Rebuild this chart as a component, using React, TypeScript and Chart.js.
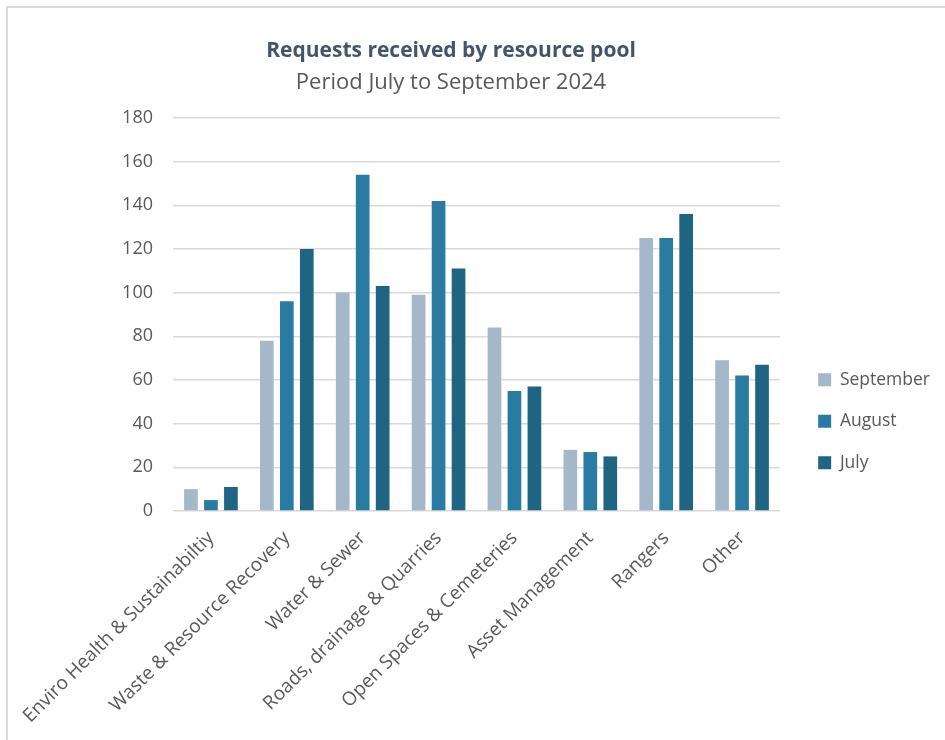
import React, { useEffect, useRef } from 'react';
import { Chart, registerables } from 'chart.js';

Chart.register(...registerables);

// ---- data ----
const categories = [
  'Enviro Health & Sustainabiltiy',
  'Waste & Resource Recovery',
  'Water & Sewer',
  'Roads, drainage & Quarries',
  'Open Spaces & Cemeteries',
  'Asset Management',
  'Rangers',
  'Other',
];
const seriesNames = ['September', 'August', 'July'];
const september = [10, 78, 100, 99, 84, 28, 125, 69];
const august = [5, 96, 154, 142, 55, 27, 125, 62];
const july = [11, 120, 103, 111, 57, 25, 136, 67];
const yMin = 0;
const yMax = 180;
const yStep = 20;
const titleText = 'Requests received by resource pool';
const subtitleText = 'Period July to September 2024';

// ---- style ----
const FONT = "'Open Sans', sans-serif";
const COLORS = ['#A4B8C9', '#2A7BA1', '#1F6483'];
const TEXT = '#595959';
const GRID = '#D9D9D9';
const CANVAS_W = 983;
const CANVAS_H = 740;
const SHIFT = 38;
const PLOT_LEFT = 211;
const PLOT_RIGHT = 818;
const PLOT_BOTTOM = 511;
const PAD_RIGHT = 5;

export default function App() {
  const ref = useRef<HTMLCanvasElement | null>(null);

  useEffect(() => {
    if (!ref.current) return;
    const values = [september, august, july];
    const chart = new Chart(ref.current, {
      type: 'bar',
      data: {
        labels: categories,
        datasets: seriesNames.map((name, i) => ({
          label: name,
          data: values[i],
          backgroundColor: COLORS[i],
          borderWidth: 0,
          categoryPercentage: 0.79,
          barPercentage: 0.685,
        })),
      },
      options: {
        responsive: false,
        animation: false,
        layout: { padding: { left: 0, right: PAD_RIGHT, top: 0, bottom: 0 } },
        plugins: {
          title: {
            display: true,
            text: titleText,
            color: '#44546A',
            font: { family: FONT, size: 21, weight: 'bold' },
            padding: { top: 38, bottom: 3 },
          },
          subtitle: {
            display: true,
            text: subtitleText,
            color: TEXT,
            font: { family: FONT, size: 22 },
            padding: { top: 3, bottom: 22.3 },
          },
          legend: {
            position: 'right',
            align: 'center',
            title: { display: true, text: ' ', padding: { top: 88, bottom: 0 }, font: { size: 12 } },
            labels: {
              boxWidth: 13,
              boxHeight: 13,
              padding: 24,
              color: TEXT,
              font: { family: FONT, size: 17.5 },
            },
          },
          tooltip: { enabled: false },
        },
        scales: {
          x: {
            grid: { display: false },
            border: { display: false },
            ticks: {
              color: TEXT,
              font: { family: FONT, size: 19 },
              maxRotation: 45,
              minRotation: 45,
              autoSkip: false,
              padding: 8,
            },
            afterFit: (s: any) => {
              s.height = CANVAS_H - PLOT_BOTTOM;
            },
          },
          y: {
            min: yMin,
            max: yMax,
            ticks: { stepSize: yStep, padding: 20, color: TEXT, font: { family: FONT, size: 18 } },
            grid: { color: GRID, lineWidth: 1.5, drawTicks: false },
            border: { display: false },
            afterFit: (s: any) => {
              s.width = PLOT_LEFT;
            },
          },
          y2: {
            position: 'right',
            display: true,
            grid: { display: false },
            ticks: { display: false },
            border: { display: false },
            afterFit: (s: any) => {
              const lg = s.chart.legend;
              s.width = Math.max(0, CANVAS_W - PAD_RIGHT - (lg ? lg.width : 0) - PLOT_RIGHT);
            },
          },
        },
      } as any,
    });
    return () => chart.destroy();
  }, []);

  return (
    <div
      style={{
        position: 'fixed',
        left: 0,
        top: 0,
        width: 945,
        height: 740,
        overflow: 'hidden',
        background: '#fff',
      }}
    >
      <div
        style={{
          position: 'absolute',
          left: 6,
          top: 6,
          right: 0,
          bottom: 0,
          borderTop: '2px solid #DADADA',
          borderLeft: '2px solid #DADADA',
        }}
      />
      <canvas
        ref={ref}
        width={CANVAS_W}
        height={CANVAS_H}
        style={{ position: 'absolute', left: -SHIFT, top: 0, width: CANVAS_W, height: CANVAS_H }}
      />
    </div>
  );
}
